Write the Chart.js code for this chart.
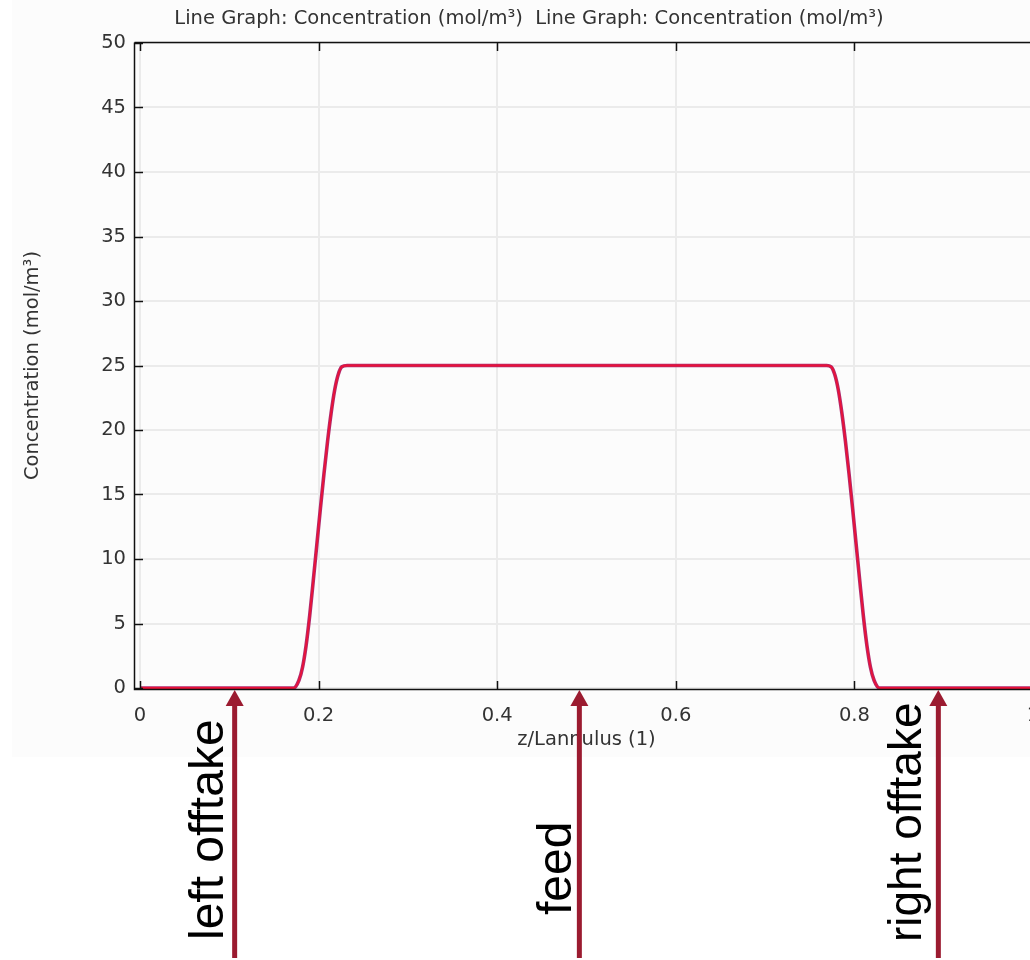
<!DOCTYPE html>
<html>
<head>
<meta charset="utf-8">
<script src="https://cdn.jsdelivr.net/npm/chart.js@4.4.1/dist/chart.umd.min.js"></script>
<style>
  html, body { margin: 0; padding: 0; overflow: hidden; background: #fff; }
  #wrap { width: 1060px; height: 960px; }
</style>
</head>
<body>
<div id="wrap"><canvas id="chart" width="1060" height="960"></canvas></div>
<script>
// curve: z/Lannulus vs concentration
const zValues = [0, 0.05, 0.1, 0.15, 0.172, 0.178, 0.182, 0.186, 0.190, 0.194,
  0.198, 0.202, 0.206, 0.210, 0.214, 0.218, 0.222, 0.226, 0.232,
  0.3, 0.4, 0.5, 0.6, 0.7,
  0.769, 0.774, 0.778, 0.782, 0.786, 0.790, 0.794, 0.798, 0.802, 0.806,
  0.810, 0.814, 0.818, 0.822, 0.828, 0.85, 0.9, 0.95, 1.0];
const concValues = [0, 0, 0, 0, 0, 0.6, 1.6, 3.3, 5.6, 8.3,
  11.1, 13.9, 16.6, 19.1, 21.3, 23.1, 24.3, 24.9, 25,
  25, 25, 25, 25, 25,
  25, 24.9, 24.3, 23.1, 21.3, 19.1, 16.6, 13.9, 11.1, 8.3,
  5.6, 3.3, 1.6, 0.6, 0, 0, 0, 0, 0];

const xTickValues = [0, 0.2, 0.4, 0.6, 0.8, 1];
const yTickValues = [0, 5, 10, 15, 20, 25, 30, 35, 40, 45, 50];

// arrows under the axis
const arrowZ = [0.106, 0.492, 0.894];
const arrowLabels = ['left offtake', 'feed', 'right offtake'];
// label placement (baseline offset from arrow, start y, size)
const labelDx = [-12, -8, -17];
const labelY = [940, 915, 942];
const labelSize = [48, 48, 46];

const chartTitle = 'Line Graph: Concentration (mol/m\u00b3)  Line Graph: Concentration (mol/m\u00b3)';

const points = zValues.map((z, i) => ({ x: z, y: concValues[i] }));

const FONT = 'DejaVu Sans';
const FS = 19.5;
const TXT = '#333333';

const framePlugin = {
  id: 'frame',
  beforeDraw(chart) {
    const ctx = chart.ctx;
    ctx.save();
    ctx.fillStyle = '#ffffff';
    ctx.fillRect(0, 0, chart.width, chart.height);
    ctx.fillStyle = '#fcfcfc';
    ctx.fillRect(12, 0, chart.width - 12, 757);
    ctx.fillStyle = TXT;
    ctx.font = FS + 'px "' + FONT + '"';
    ctx.textAlign = 'center';
    ctx.textBaseline = 'middle';
    ctx.fillText(chartTitle, 529, 19);
    ctx.restore();
  },
  afterDatasetsDraw(chart) {
    const ctx = chart.ctx;
    const a = chart.chartArea;
    const xs = chart.scales.x, ys = chart.scales.y;
    ctx.save();
    ctx.strokeStyle = '#111';
    ctx.lineWidth = 1.5;
    // axis lines
    ctx.beginPath();
    ctx.moveTo(a.left - 5.5, a.top - 0.5);
    ctx.lineTo(a.left - 5.5, a.bottom + 1.5);
    ctx.lineTo(chart.width, a.bottom + 1.5);
    ctx.moveTo(a.left - 5.5, a.top - 0.5);
    ctx.lineTo(chart.width, a.top - 0.5);
    ctx.stroke();
    // inward tick marks
    ctx.beginPath();
    xs.ticks.forEach(t => {
      const px = Math.round(xs.getPixelForValue(t.value)) + 0.5;
      ctx.moveTo(px, a.bottom + 1.5); ctx.lineTo(px, a.bottom - 7);
      ctx.moveTo(px, a.top - 0.5); ctx.lineTo(px, a.top + 8);
    });
    ys.ticks.forEach(t => {
      const py = Math.round(ys.getPixelForValue(t.value)) + 0.5;
      ctx.moveTo(a.left - 5.5, py); ctx.lineTo(a.left + 3, py);
    });
    ctx.stroke();

    // arrows and labels
    const red = '#9b1b30';
    arrowZ.forEach((z, i) => {
      const px = xs.getPixelForValue(z);
      const tip = a.bottom + 2;
      ctx.fillStyle = red;
      ctx.beginPath();
      ctx.moveTo(px, tip);
      ctx.lineTo(px + 9, tip + 16);
      ctx.lineTo(px - 9, tip + 16);
      ctx.closePath();
      ctx.fill();
      ctx.fillRect(px - 2.5, tip + 14, 5, 960 - tip - 16);

      ctx.save();
      ctx.translate(px + labelDx[i], labelY[i]);
      ctx.rotate(-Math.PI / 2);
      ctx.fillStyle = '#000';
      ctx.font = labelSize[i] + 'px "Liberation Sans"';
      ctx.textAlign = 'left';
      ctx.textBaseline = 'alphabetic';
      ctx.fillText(arrowLabels[i], 0, 0);
      ctx.restore();
    });
    ctx.restore();
  }
};

new Chart(document.getElementById('chart'), {
  type: 'line',
  data: {
    datasets: [{
      label: 'Line Graph 2',
      data: points,
      borderColor: '#ea1238',
      borderWidth: 1.8,
      pointRadius: 0,
      cubicInterpolationMode: 'monotone',
      clip: 6
    }, {
      label: 'Line Graph 1',
      data: points,
      borderColor: '#b02a6c',
      borderWidth: 3.6,
      pointRadius: 0,
      cubicInterpolationMode: 'monotone',
      clip: 6
    }]
  },
  options: {
    responsive: false,
    animation: false,
    layout: { padding: { left: 0, top: 43, right: 27, bottom: 182 } },
    plugins: { legend: { display: false }, tooltip: { enabled: false } },
    scales: {
      x: {
        type: 'linear',
        min: 0, max: 1,
        afterFit: s => { s.height = 90; },
        afterBuildTicks: s => { s.ticks = xTickValues.map(v => ({ value: v })); },
        grid: { color: '#ebebeb', lineWidth: 2, drawTicks: false },
        border: { display: false },
        ticks: {
          color: TXT, padding: 16, maxRotation: 0,
          font: { family: FONT, size: FS },
          callback: v => String(v)
        },
        title: {
          display: true, text: 'z/Lannulus (1)', color: TXT,
          font: { family: FONT, size: FS },
          padding: { top: 0, bottom: 26 }
        }
      },
      y: {
        min: 0, max: 50,
        afterFit: s => { s.width = 140; },
        afterBuildTicks: s => { s.ticks = yTickValues.map(v => ({ value: v })); },
        grid: { color: '#ebebeb', lineWidth: 2, drawTicks: false },
        border: { display: false },
        ticks: {
          color: TXT, padding: 14,
          font: { family: FONT, size: FS }
        },
        title: {
          display: true, text: 'Concentration (mol/m\u00b3)', color: TXT,
          font: { family: FONT, size: FS },
          padding: { top: 21, bottom: 0 }
        }
      }
    }
  },
  plugins: [framePlugin]
});
</script>
</body>
</html>
